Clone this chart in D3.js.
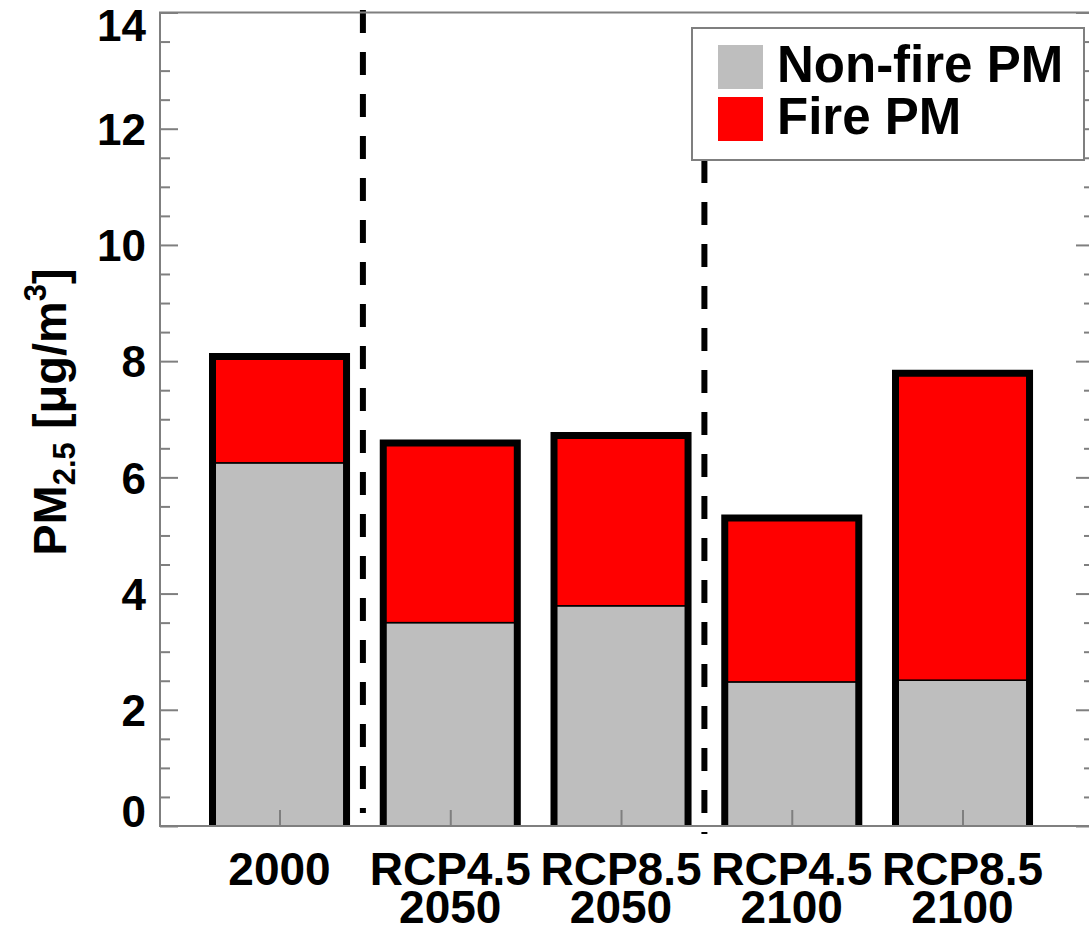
<!DOCTYPE html>
<html>
<head>
<meta charset="utf-8">
<script src="https://cdn.jsdelivr.net/npm/d3@7"></script>
<style>
  html, body { margin: 0; padding: 0; background: #fff; }
  svg { display: block; font-family: "Liberation Sans", Arial, Helvetica, sans-serif; font-weight: bold; }
</style>
</head>
<body>
<div id="chart"></div>
<script>
// scenario labels (two lines each where needed)
const categories = [["2000"], ["RCP4.5", "2050"], ["RCP8.5", "2050"], ["RCP4.5", "2100"], ["RCP8.5", "2100"]];
const nonFirePM = [6.25, 3.50, 3.79, 2.48, 2.51];
const firePM = [1.83, 3.09, 2.93, 2.82, 5.28];
const seriesNames = ["Non-fire PM", "Fire PM"];
const seriesColors = ["#bebebe", "#ff0000"];
const yMajorTicks = [0, 2, 4, 6, 8, 10, 12, 14];
const dividers = [1.5, 3.5];

const width = 1089, height = 929;
const plotL = 160, plotR = 1094, plotT = 12.5, plotB = 826;

const svg = d3.select("#chart").append("svg")
    .attr("width", width)
    .attr("height", height);

const x = d3.scaleLinear().domain([0.3, 5.77]).range([plotL, plotR]);
const y = d3.scaleLinear().domain([0, 14]).range([plotB, plotT]);
const barW = x(0.785) - x(0);

const yMinorTicks = d3.range(0, 14.01, 0.5).filter(v => v % 2 !== 0);

// stacked data
const stacked = categories.map((c, i) => ({
    idx: i + 1,
    segs: [
        { y0: 0, y1: nonFirePM[i], color: seriesColors[0] },
        { y0: nonFirePM[i], y1: nonFirePM[i] + firePM[i], color: seriesColors[1] }
    ],
    total: nonFirePM[i] + firePM[i]
}));

// dashed separators
svg.selectAll(".divider")
    .data(dividers)
    .enter()
    .append("line")
    .attr("class", "divider")
    .attr("x1", d => x(d) - 2)
    .attr("x2", d => x(d) - 2)
    .attr("y1", (d, i) => i === 0 ? 10 : 160)
    .attr("y2", (d, i) => i === 0 ? 813 : 834)
    .attr("stroke", "#000")
    .attr("stroke-width", 6)
    .attr("stroke-dasharray", "23 19");

// bars
const bars = svg.selectAll(".bar")
    .data(stacked)
    .enter()
    .append("g")
    .attr("class", "bar");

bars.selectAll("rect")
    .data(d => d.segs.map(s => Object.assign({ idx: d.idx }, s)))
    .enter()
    .append("rect")
    .attr("x", d => x(d.idx) - barW / 2)
    .attr("y", d => y(d.y1))
    .attr("width", barW)
    .attr("height", d => y(d.y0) - y(d.y1))
    .attr("fill", d => d.color)
    .attr("stroke", "#000")
    .attr("stroke-width", 1.5);

bars.append("path")
    .attr("d", d => {
        const x0 = x(d.idx) - barW / 2, x1 = x(d.idx) + barW / 2;
        return `M${x0},${y(0)}L${x0},${y(d.total)}L${x1},${y(d.total)}L${x1},${y(0)}`;
    })
    .attr("fill", "none")
    .attr("stroke", "#000")
    .attr("stroke-width", 7)
    .attr("stroke-linejoin", "miter");

// axes frame
const axisColor = "#7f7f7f";
svg.append("path")
    .attr("d", `M${plotL},${plotB}L${plotL},${plotT}L${plotR},${plotT}L${plotR},${plotB}Z`)
    .attr("fill", "none")
    .attr("stroke", axisColor)
    .attr("stroke-width", 2);

function styleAxis(g) {
    g.select(".domain").remove();
    g.selectAll(".tick line").attr("stroke", axisColor).attr("stroke-width", 2);
}

// y axis left: major ticks + labels
const yAxisG = svg.append("g")
    .attr("transform", `translate(${plotL},0)`)
    .call(d3.axisLeft(y).tickValues(yMajorTicks).tickSize(-18).tickPadding(14).tickFormat(d3.format("d")))
    .call(styleAxis);

yAxisG.selectAll(".tick text")
    .attr("font-size", 44)
    .attr("font-weight", "bold")
    .attr("fill", "#000")
    .attr("font-family", "'Liberation Sans', Arial, sans-serif")
    .attr("dy", d => d === 14 ? "0.63em" : d === 0 ? "0" : "0.36em");

svg.append("g")
    .attr("transform", `translate(${plotL},0)`)
    .call(d3.axisLeft(y).tickValues(yMinorTicks).tickSize(-10).tickFormat(""))
    .call(styleAxis);

// y axis right
svg.append("g")
    .attr("transform", `translate(${plotR},0)`)
    .call(d3.axisRight(y).tickValues(yMajorTicks).tickSize(-18).tickFormat(""))
    .call(styleAxis);
svg.append("g")
    .attr("transform", `translate(${plotR},0)`)
    .call(d3.axisRight(y).tickValues(yMinorTicks).tickSize(-10).tickFormat(""))
    .call(styleAxis);

// x axis ticks at bar centers
svg.append("g")
    .attr("transform", `translate(0,${plotB})`)
    .call(d3.axisBottom(x).tickValues(categories.map((c, i) => i + 1)).tickSize(-16).tickFormat(""))
    .call(styleAxis);

// x labels
const xLabels = svg.selectAll(".xlabel")
    .data(categories)
    .enter()
    .append("text")
    .attr("class", "xlabel")
    .attr("text-anchor", "middle")
    .attr("font-size", 46)
    .attr("fill", "#000");

xLabels.each(function(d, i) {
    const t = d3.select(this);
    d.forEach((line, j) => {
        t.append("tspan")
            .attr("x", x(i + 1))
            .attr("y", 885 + j * 38)
            .text(line);
    });
});

// y axis title
const yTitle = svg.append("text")
    .attr("transform", "translate(66,412) rotate(-90)")
    .attr("text-anchor", "middle")
    .attr("font-size", 47)
    .attr("fill", "#000");
yTitle.append("tspan").text("PM");
yTitle.append("tspan").attr("font-size", 31).attr("dy", 9).text("2.5");
yTitle.append("tspan").attr("dy", -9).text(" [\u03bcg/m");
yTitle.append("tspan").attr("font-size", 31).attr("dy", -20).text("3");
yTitle.append("tspan").attr("dy", 20).text("]");

// legend
const legend = svg.append("g");
legend.append("rect")
    .attr("x", 692)
    .attr("y", 28)
    .attr("width", 392)
    .attr("height", 132)
    .attr("fill", "#fff")
    .attr("stroke", axisColor)
    .attr("stroke-width", 2);

const items = legend.selectAll(".item")
    .data(seriesNames)
    .enter()
    .append("g")
    .attr("class", "item")
    .attr("transform", (d, i) => `translate(718,${45 + i * 52})`);

items.append("rect")
    .attr("width", 45)
    .attr("height", 44)
    .attr("fill", (d, i) => seriesColors[i]);

items.append("text")
    .attr("x", 59)
    .attr("y", 37)
    .attr("font-size", 51)
    .attr("fill", "#000")
    .text(d => d);
</script>
</body>
</html>
